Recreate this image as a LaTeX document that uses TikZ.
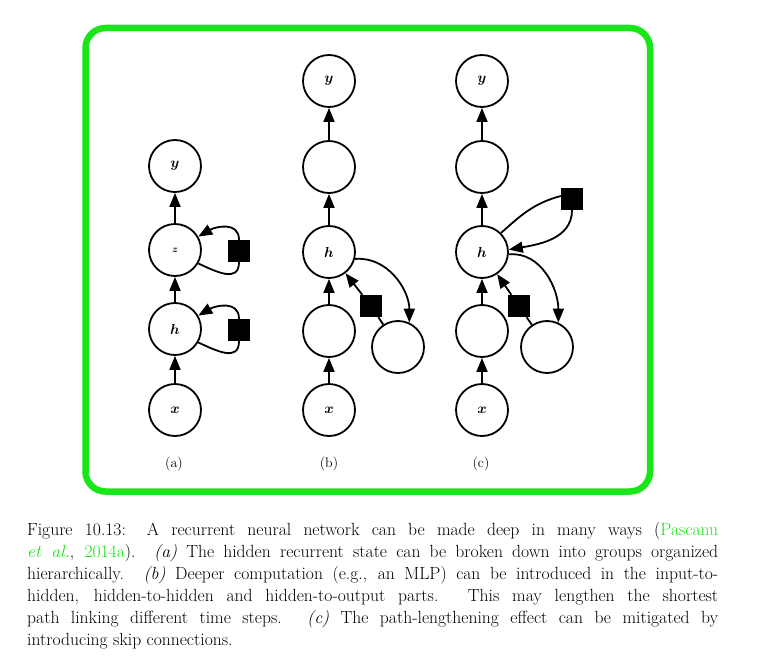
\documentclass[tikz,border=0pt]{standalone}
\usepackage{bm}
\usetikzlibrary{arrows.meta}
\definecolor{boxgreen}{RGB}{25,230,25}
\definecolor{citegreen}{RGB}{25,225,25}
\begin{document}
\begin{tikzpicture}[x=1pt,y=1pt,
  unit/.style={circle,draw,line width=1.8pt,minimum size=52pt,inner sep=0pt,font=\fontsize{14}{16}\selectfont},
  sqbox/.style={fill=black,minimum size=22pt,inner sep=0pt},
  arr/.style={line width=1.8pt,-{Triangle[length=14pt,width=11pt]}},
  ln/.style={line width=1.8pt},
  sublabel/.style={font=\fontsize{14}{16}\selectfont}]
\useasboundingbox (0,0) rectangle (776,-658);
\fill[white] (0,0) rectangle (776,-658);
\draw[boxgreen,line width=6.5pt,rounded corners=20pt] (85.5,-28) rectangle (650,-491.5);

% (a)
\node[unit] (ay) at (175,-166) {$\bm{y}$};
\node[unit] (az) at (175,-250) {$\scriptstyle\bm{z}$};
\node[unit] (ah) at (175,-329) {$\bm{h}$};
\node[unit] (ax) at (175,-410) {$\bm{x}$};
\node[sqbox] (aq1) at (239,-251) {};
\node[sqbox] (aq2) at (239,-330) {};
\draw[arr] (ax) -- (ah);
\draw[arr] (ah) -- (az);
\draw[arr] (az) -- (ay);
\draw[ln] (az.-30) to[out=-25,in=-90,looseness=1.3] (aq1.south);
\draw[arr] (aq1.north) to[out=90,in=30,looseness=1.2] (az.30);
\draw[ln] (ah.-30) to[out=-25,in=-90,looseness=1.3] (aq2.south);
\draw[arr] (aq2.north) to[out=90,in=30,looseness=1.2] (ah.30);
\node[sublabel] (la) at (174,-464) {(a)};

% (b)
\node[unit] (by) at (329,-81) {$\bm{y}$};
\node[unit] (bo) at (329,-167) {};
\node[unit] (bh) at (329,-252) {$\bm{h}$};
\node[unit] (bi) at (329,-331) {};
\node[unit] (bx) at (329,-410) {$\bm{x}$};
\node[unit] (bs) at (398,-347) {};
\node[sqbox] (bq) at (371,-306) {};
\draw[arr] (bx) -- (bi);
\draw[arr] (bi) -- (bh);
\draw[arr] (bh) -- (bo);
\draw[arr] (bo) -- (by);
\draw[arr] (bh.-15) to[out=5,in=90] (bs.65);
\draw[ln] (bs) -- (bq);
\draw[arr] (bq) -- (bh);
\node[sublabel] (lb) at (329,-464) {(b)};

% (c)
\node[unit] (cy) at (482,-81) {$\bm{y}$};
\node[unit] (co) at (482,-167) {};
\node[unit] (ch) at (482,-252) {$\bm{h}$};
\node[unit] (ci) at (482,-331) {};
\node[unit] (cx) at (482,-410) {$\bm{x}$};
\node[unit] (cs) at (547,-347) {};
\node[sqbox] (cq) at (519,-306) {};
\node[sqbox] (cu) at (572,-199) {};
\draw[arr] (cx) -- (ci);
\draw[arr] (ci) -- (ch);
\draw[arr] (ch) -- (co);
\draw[arr] (co) -- (cy);
\draw[arr] (ch.-5) to[out=5,in=90] (cs.65);
\draw[ln] (cs) -- (cq);
\draw[arr] (cq) -- (ch);
\draw[ln] (ch.45) to[out=42,in=195] (cu.165);
\draw[arr] (cu.south) to[out=-90,in=10] (ch.5);
\node[sublabel] (lc) at (481,-464) {(c)};

% caption
\node[anchor=north west,inner sep=0pt,text width=691pt,align=justify,
  font=\fontsize{17.6}{22}\selectfont] (cap) at (27,-522) {%
Figure 10.13: A recurrent neural network can be made deep in many ways ({\color{citegreen}Pascanu}\linebreak
{\color{citegreen}\textit{et al.}}, {\color{citegreen}2014a}). \textit{(a)} The hidden recurrent state can be broken down into groups organized\linebreak
hierarchically. \textit{(b)} Deeper computation (e.g., an MLP) can be introduced in the input-to-\linebreak
hidden, hidden-to-hidden and hidden-to-output parts. This may lengthen the shortest\linebreak
path linking different time steps. \textit{(c)} The path-lengthening effect can be mitigated by\linebreak
introducing skip connections.};
\end{tikzpicture}
\end{document}
